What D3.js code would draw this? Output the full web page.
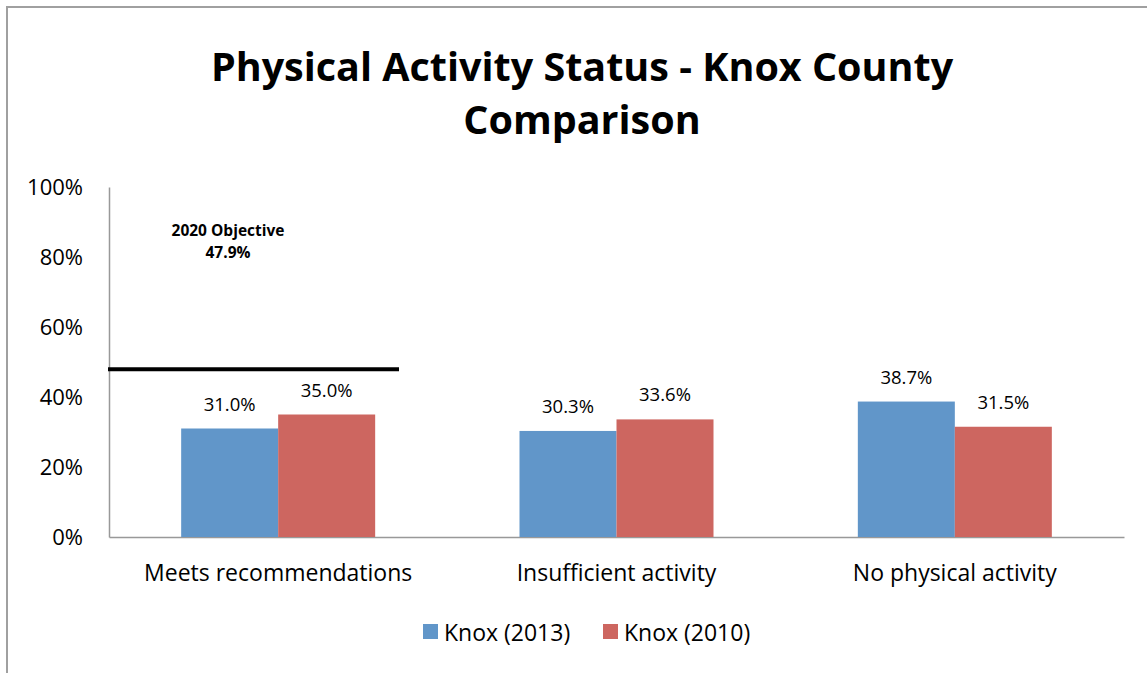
<!DOCTYPE html>
<html>
<head>
<meta charset="utf-8">
<script src="https://cdn.jsdelivr.net/npm/d3@7"></script>
<style>
  body { margin: 0; background: #fff; }
  svg { display: block; font-family: "Open Sans", "Liberation Sans", sans-serif; }
</style>
</head>
<body>
<svg id="svg1" width="1147" height="673"></svg>
<script>
// chart data
var categories = ['Meets recommendations', 'Insufficient activity', 'No physical activity'];
var seriesNames = ['Knox (2013)', 'Knox (2010)'];
var knox2013 = [31.0, 30.3, 38.7];
var knox2010 = [35.0, 33.6, 31.5];
var yTicks = [0, 20, 40, 60, 80, 100];
var objective = 47.9;

var colors = ['#6196c9', '#cd6660'];
var font = '"Open Sans", "Liberation Sans", sans-serif';

var svg = d3.select('#svg1');

// outer frame
svg.append('path')
    .attr('d', 'M7,673 V7 H1147')
    .attr('fill', 'none')
    .attr('stroke', '#a0a0a0')
    .attr('stroke-width', 2);

// title
svg.append('text')
    .attr('x', 582).attr('y', 81)
    .attr('text-anchor', 'middle')
    .style('font-size', '39.5px').style('font-weight', 'bold')
    .text('Physical Activity Status - Knox County');
svg.append('text')
    .attr('x', 582).attr('y', 134)
    .attr('text-anchor', 'middle')
    .style('font-size', '39.5px').style('font-weight', 'bold')
    .text('Comparison');

var x0 = d3.scaleBand().domain(categories).range([109, 1124]);
var x1 = d3.scaleBand().domain(seriesNames).range([0, 194]);
var y = d3.scaleLinear().domain([0, 100]).range([537, 187]);

// y axis
var yAxis = svg.append('g')
    .attr('transform', 'translate(109,0)')
    .call(d3.axisLeft(y).tickValues(yTicks).tickSize(0).tickPadding(26)
        .tickFormat(function(d){ return d + '%'; }))
    .attr('font-family', font);
yAxis.select('.domain').attr('stroke', '#999').attr('stroke-width', 1.5);
yAxis.selectAll('text').style('font-size', '22px').attr('fill', '#000');

// x axis
var xAxis = svg.append('g')
    .attr('transform', 'translate(0,537)')
    .call(d3.axisBottom(x0).tickSize(0).tickPadding(28))
    .attr('font-family', font);
xAxis.select('.domain').attr('stroke', '#999').attr('stroke-width', 1.5);
xAxis.selectAll('text').style('font-size', '23px').attr('fill', '#000');

var rows = categories.map(function(c, i){
    return { cat: c, vals: [knox2013[i], knox2010[i]] };
});

var groups = svg.selectAll('g.grp')
    .data(rows)
    .enter()
    .append('g')
    .attr('class', 'grp')
    .attr('transform', function(d){
        return 'translate(' + (x0(d.cat) + x0.bandwidth() / 2 - 97) + ',0)';
    });

groups.selectAll('rect')
    .data(function(d){ return d.vals.map(function(v, j){ return { s: seriesNames[j], v: v, j: j }; }); })
    .enter()
    .append('rect')
    .attr('x', function(d){ return x1(d.s); })
    .attr('y', function(d){ return y(d.v); })
    .attr('width', x1.bandwidth())
    .attr('height', function(d){ return y(0) - y(d.v); })
    .attr('fill', function(d){ return colors[d.j]; });

groups.selectAll('text.val')
    .data(function(d){ return d.vals.map(function(v, j){ return { s: seriesNames[j], v: v }; }); })
    .enter()
    .append('text')
    .attr('class', 'val')
    .attr('x', function(d){ return x1(d.s) + x1.bandwidth() / 2; })
    .attr('y', function(d){ return y(d.v) - 18; })
    .attr('text-anchor', 'middle')
    .style('font-size', '18.5px')
    .text(function(d){ return d.v.toFixed(1) + '%'; });

// 2020 objective line
svg.append('line')
    .attr('x1', 108).attr('x2', 399)
    .attr('y1', y(objective)).attr('y2', y(objective))
    .attr('stroke', '#000')
    .attr('stroke-width', 4);

svg.append('text')
    .attr('x', 228).attr('y', 236)
    .attr('text-anchor', 'middle')
    .style('font-size', '15.5px').style('font-weight', 'bold')
    .text('2020 Objective');
svg.append('text')
    .attr('x', 228).attr('y', 258)
    .attr('text-anchor', 'middle')
    .style('font-size', '15.5px').style('font-weight', 'bold')
    .text(objective + '%');

// legend
var legendX = [423, 603];
var legend = svg.selectAll('g.leg')
    .data(seriesNames)
    .enter()
    .append('g')
    .attr('class', 'leg')
    .attr('transform', function(d, i){ return 'translate(' + legendX[i] + ',624)'; });
legend.append('rect')
    .attr('width', 15).attr('height', 15)
    .attr('fill', function(d, i){ return colors[i]; });
legend.append('text')
    .attr('x', 21).attr('y', 17)
    .style('font-size', '23px')
    .text(function(d){ return d; });
</script>
</body>
</html>
